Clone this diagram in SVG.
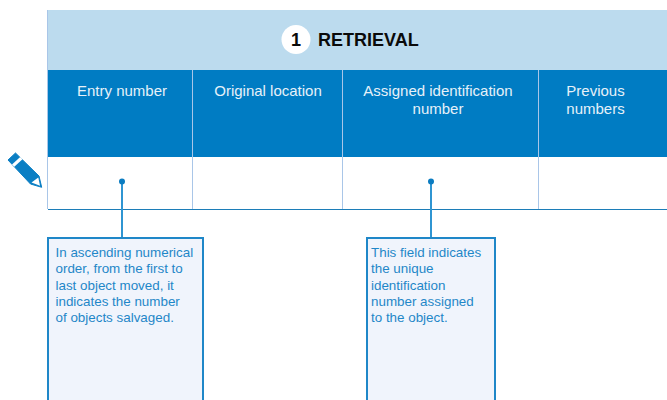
<svg xmlns="http://www.w3.org/2000/svg" width="667" height="400" viewBox="0 0 667 400">
<style>
text{font-family:"Liberation Sans",Arial,sans-serif}
.h{fill:#e6f1f9;font-size:15px;text-anchor:middle}
.n{fill:#1f87c8;font-size:13.400px}
.div{stroke:#a9c6e8;stroke-width:1;fill:none}
.box{fill:#f0f4fc;stroke:#1f87c8;stroke-width:2}
.conn{stroke:#2f95d2;stroke-width:2;fill:none}
.dot{fill:#0b7cc1}
</style>
<g id="table">
<rect x="47.500" y="10" width="619.500" height="60" fill="#bcdbee"/>
<rect x="48" y="70" width="619" height="87" fill="#007cc3"/>
<path class="div" d="M47.500 10V209M192.500 70V209M342.500 70V209M538.500 70V209"/>
<path d="M48 209.500H667" stroke="#1c7db8" stroke-width="1" fill="none"/>
</g>
<g id="title">
<circle cx="296" cy="39.500" r="14.500" fill="#fff"/>
<text x="296" y="46" font-size="18" font-weight="700" text-anchor="middle" fill="#0a0a0a">1</text>
<text x="318" y="46" font-size="18" font-weight="700" fill="#0a0a0a">RETRIEVAL</text>
</g>
<g id="col-entry"><text class="h" x="122" y="96">Entry number</text></g>
<g id="col-location"><text class="h" x="268" y="96">Original location</text></g>
<g id="col-assigned"><text class="h" x="438" y="96">Assigned identification</text><text class="h" x="438" y="114">number</text></g>
<g id="col-previous"><text class="h" x="595.500" y="96">Previous</text><text class="h" x="595.500" y="114">numbers</text></g>
<g id="pencil">
<path d="M8 160L15.500 153L39 176L41.700 187.300L30.500 184Z" fill="#0b7fc4" stroke="#0b7fc4" stroke-width="1" stroke-linejoin="round"/>
<path d="M31.500 182.500L38.300 177.500L40 185.800Z" fill="#fff"/>
<path d="M12 164.500L20.200 157L22.500 159.300L14.300 166.800Z" fill="#fff"/>
</g>
<g id="connectors">
<path class="conn" d="M122 182V238M431 182V238"/>
<circle class="dot" cx="122" cy="181.500" r="3"/>
<circle class="dot" cx="431" cy="181.500" r="3"/>
</g>
<g id="note-entry">
<path class="box" d="M48 401V238H203V401"/>
<text class="n" x="55.500" y="257">In ascending numerical</text>
<text class="n" x="55.500" y="273">order, from the first to</text>
<text class="n" x="55.500" y="290">last object moved, it</text>
<text class="n" x="55.500" y="306">indicates the number</text>
<text class="n" x="55.500" y="322">of objects salvaged.</text>
</g>
<g id="note-assigned">
<path class="box" d="M367 401V238H495V401"/>
<text class="n" x="371" y="257">This field indicates</text>
<text class="n" x="371" y="273">the unique</text>
<text class="n" x="371" y="290">identification</text>
<text class="n" x="371" y="306">number assigned</text>
<text class="n" x="371" y="322">to the object.</text>
</g>
</svg>
